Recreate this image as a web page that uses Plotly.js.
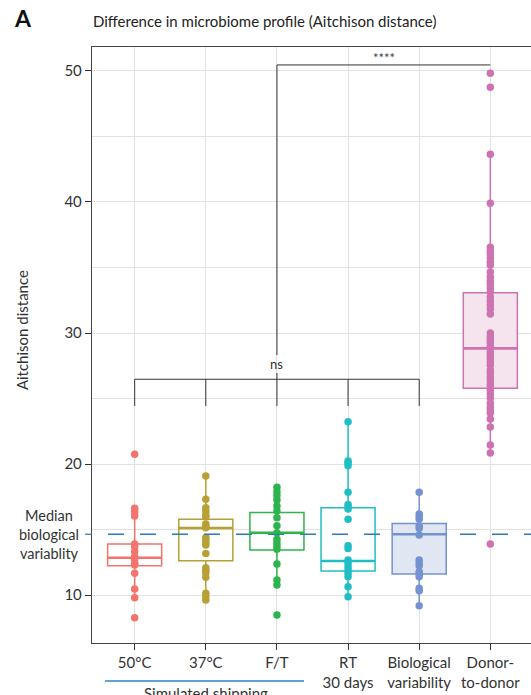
<!DOCTYPE html>
<html><head><meta charset="utf-8">
<script src="https://cdn.plot.ly/plotly-3.0.1.min.js"></script>
<style>html,body{margin:0;padding:0;overflow:hidden;background:#fff}</style>
</head><body><div id="chart" style="width:540px;height:695px"></div>
<script>
const categories = ["50°C", "37°C", "F/T", "RT<br>30 days", "Biological<br>variability", "Donor-<br>to-donor"];
const tickPositions = [1, 2, 3, 4, 5, 6];

const vals50 = [20.74, 16.62, 16.36, 16.03, 13.89, 13.69, 13.31, 12.92, 12.73, 12.42, 12.29, 11.66, 10.46, 9.79, 8.27];
const vals37 = [19.08, 17.31, 16.66, 16.41, 16.11, 15.98, 15.42, 15.27, 15.14, 14.40, 14.20, 13.99, 13.82, 13.18, 12.08, 11.91, 11.70, 11.35, 10.13, 9.87, 9.62];
const valsFT = [18.22, 17.89, 17.58, 17.25, 16.79, 16.41, 15.90, 15.29, 14.76, 14.25, 13.99, 13.74, 13.49, 12.37, 11.15, 10.76, 8.47];
const valsRT = [23.23, 20.23, 20.05, 19.87, 17.84, 16.92, 16.74, 16.56, 15.78, 13.76, 13.56, 12.67, 12.42, 12.16, 11.91, 11.66, 11.40, 10.63, 9.87];
const valsBio = [17.84, 16.18, 15.98, 15.78, 15.27, 15.09, 14.58, 12.67, 12.47, 12.24, 11.78, 11.60, 11.40, 10.51, 10.33, 9.18];
const valsDonor = [49.82, 48.76, 43.64, 39.90, 36.54, 36.26, 36.03, 35.73, 35.42, 35.19, 34.66, 34.27, 33.97, 33.74, 33.44, 33.13, 32.75, 32.44, 32.14, 31.83, 31.45, 30.00, 29.69, 29.47, 29.24, 28.93, 28.55, 28.32, 28.09, 27.79, 27.56, 27.18, 26.95, 26.64, 26.41, 26.11, 25.88, 25.65, 25.34, 25.04, 24.66, 24.35, 24.12, 23.89, 23.44, 22.82, 21.45, 20.84, 13.89];

const q1 = [12.24, 12.62, 13.44, 11.83, 11.60, 25.78];
const medians = [12.85, 15.11, 14.76, 12.60, 14.64, 28.83];
const q3 = [13.89, 15.78, 16.31, 16.66, 15.47, 33.08];
const lowerFence = [9.79, 9.62, 10.76, 9.87, 9.18, 20.84];
const upperFence = [16.62, 19.08, 18.22, 23.23, 17.84, 43.64];

const medianBiologicalVariability = 14.64;
const yTickVals = [10, 20, 30, 40, 50];
const yMinorVals = [15, 25, 35, 45];

const groups = [vals50, vals37, valsFT, valsRT, valsBio, valsDonor];
const colors = ["#F3746C", "#B8A034", "#2DB44C", "#1FBEC4", "#7592D0", "#CE72B1"];
const fills = ["#FFFFFF", "#FFFFFF", "#FFFFFF", "#FFFFFF", "#E1E6F3", "#F5E3EE"];

const BOXW = 0.76;
const traces = [];
groups.forEach((vals, i) => {
  traces.push({
    type: "box", x: [tickPositions[i]], q1: [q1[i]], median: [medians[i]], q3: [q3[i]],
    lowerfence: [lowerFence[i]], upperfence: [upperFence[i]],
    width: BOXW, whiskerwidth: 0, fillcolor: fills[i],
    line: { color: colors[i], width: 1.5 }, boxpoints: false,
    hoverinfo: "skip", showlegend: false
  });
});
groups.forEach((vals, i) => {
  traces.push({
    type: "scatter", mode: "markers", x: vals.map(() => tickPositions[i]), y: vals,
    marker: { color: colors[i], size: 7.5 }, hoverinfo: "y", showlegend: false, cliponaxis: false
  });
});

const shapes = [];
shapes.push({ type: "line", xref: "paper", yref: "y", x0: 0.0363, x1: 1, y0: medianBiologicalVariability, y1: medianBiologicalVariability,
  line: { color: "#2A7AB8", width: 1.3, dash: "16px,16px" }, layer: "above" });
shapes.push({ type: "line", xref: "paper", yref: "y", x0: -0.016, x1: 0, y0: medianBiologicalVariability, y1: medianBiologicalVariability,
  line: { color: "#2A7AB8", width: 1.2 }, layer: "above" });
medians.forEach((m, i) => {
  shapes.push({ type: "line", xref: "x", yref: "y", x0: tickPositions[i] - BOXW / 2, x1: tickPositions[i] + BOXW / 2, y0: m, y1: m,
    line: { color: colors[i], width: 2.6 }, layer: "above" });
});
const nsY = 26.47, nsTick = 24.43;
const bc = "#333333";
shapes.push({ type: "line", x0: 1, x1: 5, y0: nsY, y1: nsY, line: { color: bc, width: 1 } });
[1, 2, 3, 4, 5].forEach(p => shapes.push({ type: "line", x0: p, x1: p, y0: nsTick, y1: nsY, line: { color: bc, width: 1 } }));
shapes.push({ type: "line", x0: 3, x1: 3, y0: nsY, y1: 26.95, line: { color: bc, width: 1 } });
shapes.push({ type: "line", x0: 3, x1: 3, y0: 28.32, y1: 50.46, line: { color: bc, width: 1 } });
shapes.push({ type: "line", x0: 3, x1: 6, y0: 50.46, y1: 50.46, line: { color: bc, width: 1 } });
shapes.push({ type: "line", xref: "paper", yref: "paper", x0: 0.0295, x1: 0.4807, y0: -0.0638, y1: -0.0638,
  line: { color: "#2A85C7", width: 1.3 } });

const FONT = "Lato, 'Open Sans', sans-serif";
const annotations = [
  { text: "<b>A</b>", xref: "paper", yref: "paper", x: -0.1814, y: 1.0487, xanchor: "left", yanchor: "middle", showarrow: false,
    font: { size: 23, color: "#111", family: FONT } },
  { text: "Difference in microbiome profile (Aitchison distance)", xref: "paper", yref: "paper", x: -0.002, y: 1.0436,
    xanchor: "left", yanchor: "middle", showarrow: false, font: { size: 15, color: "#222" } },
  { text: "Aitchison distance", xref: "paper", yref: "paper", x: -0.1587, y: 0.525, textangle: -90,
    xanchor: "center", yanchor: "middle", showarrow: false, font: { size: 15, color: "#333" } },
  { text: "Median<br>biological<br>variablity", xref: "paper", yref: "y", x: -0.024, y: medianBiologicalVariability,
    xanchor: "right", yanchor: "middle", align: "center", showarrow: false, font: { size: 14.5, color: "#333" } },
  { text: "ns", xref: "x", yref: "y", x: 3, y: 27.6, showarrow: false, font: { size: 13, color: "#333" } },
  { text: "****", xref: "x", yref: "y", x: 4.5, y: 51.0, showarrow: false, font: { size: 13, color: "#444" } },
  { text: "Simulated shipping", xref: "x", yref: "paper", x: 2.0, y: -0.0839, yanchor: "middle", showarrow: false,
    font: { size: 15, color: "#333" } }
];

const layout = {
  width: 540, height: 695,
  margin: { l: 92, r: 7, t: 47, b: 52 },
  paper_bgcolor: "#fff", plot_bgcolor: "#fff",
  font: { family: FONT, size: 15, color: "#333" },
  showlegend: false,
  xaxis: {
    range: [0.4, 6.6], tickmode: "array", tickvals: tickPositions, ticktext: categories,
    ticks: "outside", ticklen: 6, tickcolor: "#333", showline: true, linecolor: "#444", linewidth: 1.2, mirror: true,
    showgrid: true, gridcolor: "#E2E2E2", gridwidth: 1, zeroline: false,
    tickfont: { size: 15, color: "#333" }
  },
  yaxis: {
    range: [6.34, 51.83], tickmode: "array", tickvals: yTickVals, ticktext: yTickVals.map(String),
    ticks: "outside", ticklen: 6, tickcolor: "#333", showline: true, linecolor: "#444", linewidth: 1.2, mirror: true,
    showgrid: true, gridcolor: "#E2E2E2", gridwidth: 1, zeroline: false,
    minor: { tickmode: "array", tickvals: yMinorVals, showgrid: true, gridcolor: "#E2E2E2", ticks: "" },
    tickfont: { size: 15, color: "#333" }
  },
  shapes: shapes,
  annotations: annotations
};

Plotly.newPlot("chart", traces, layout, { staticPlot: true, displayModeBar: false });
</script></body></html>
